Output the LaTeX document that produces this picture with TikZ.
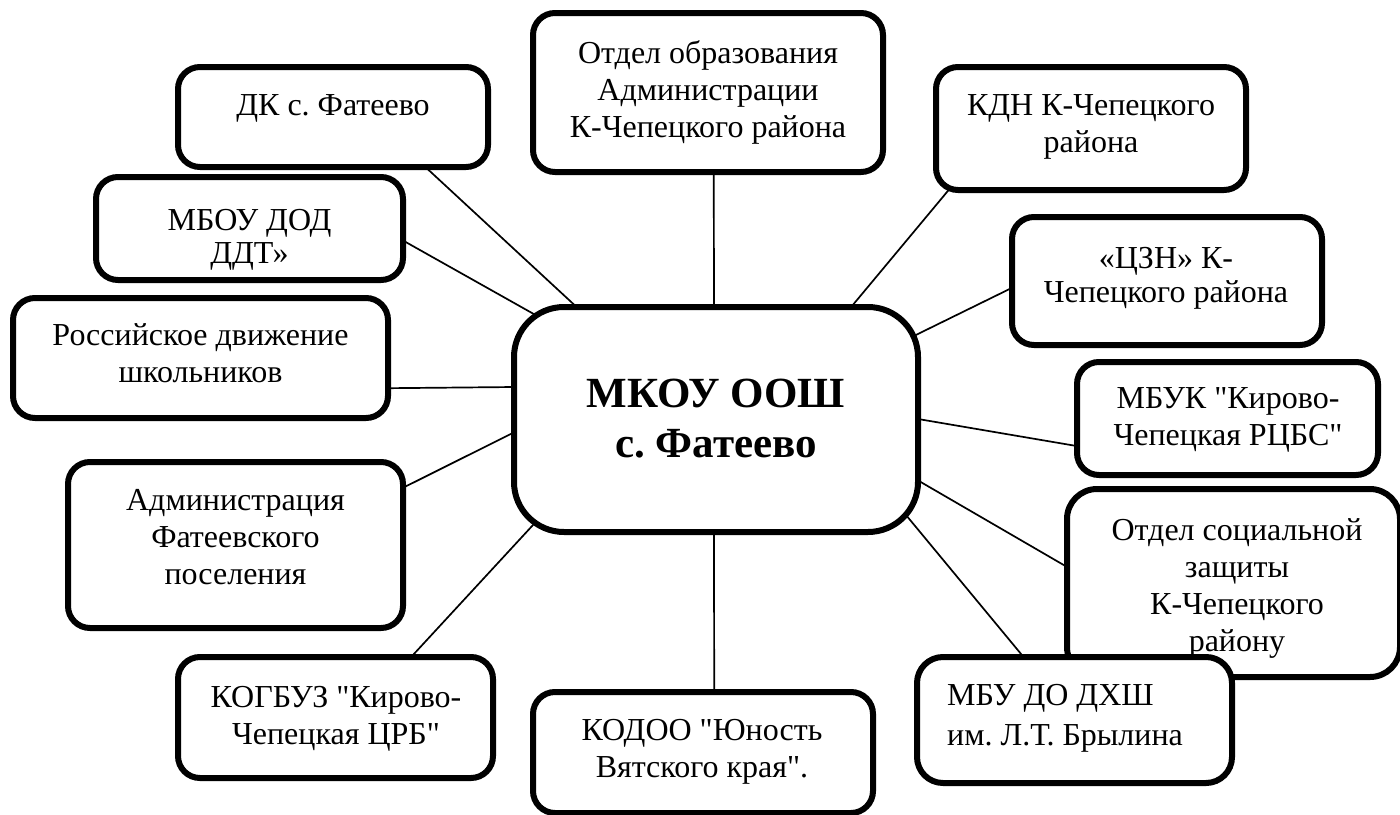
\documentclass[tikz,border=0pt]{standalone}
\usepackage{fontspec}
\setmainfont{Liberation Serif}[Ligatures=TeXOff]
\frenchspacing
\newcommand\myst{\rule{0pt}{28pt}}
\pgfdeclarelayer{bg}
\pgfsetlayers{bg,main}
\begin{document}
\begin{tikzpicture}[x=1pt,y=-1pt,
  box/.style={draw, line width=6pt, rounded corners=22pt, fill=white, inner sep=0pt},
  lbl/.style={anchor=north, inner sep=0pt, align=center, font=\fontsize{32}{37}\selectfont},
  lblc/.style={anchor=north, inner sep=0pt, align=center, font=\bfseries\fontsize{43}{50}\selectfont},
  conn/.style={line width=1.7pt, shorten <=-30pt, shorten >=-30pt}]
\useasboundingbox (0,0) rectangle (1400,814);
% centre
\node[box, rounded corners=50pt, minimum width=404pt, minimum height=225pt] (c) at (716,419.5) {};
\node[lblc] (tc) at (716,367) {\rule{0pt}{40pt}МКОУ ООШ\\с. Фатеево};
% boxes
\node[box, minimum width=350pt, minimum height=159pt] (oo) at (708,92.5) {};
\node[lbl] (too) at (708,35) {\myst Отдел образования\\Администрации\\К-Чепецкого района};
\node[box, minimum width=310pt, minimum height=100pt] (dk) at (333,117) {};
\node[lbl] (tdk) at (333,87) {\myst ДК с. Фатеево};
\node[box, minimum width=307pt, minimum height=103pt] (mb) at (249.5,228.5) {};
\node[lbl, font=\fontsize{32}{33}\selectfont] (tmb) at (249.5,202) {\myst МБОУ ДОД\\ДДТ»};
\node[box, minimum width=375pt, minimum height=120pt] (rd) at (200.5,358) {};
\node[lbl] (trd) at (200.5,317) {\myst Российское движение\\школьников};
\node[box, minimum width=335pt, minimum height=166pt] (adm) at (235.5,545) {};
\node[lbl] (tadm) at (235.5,482) {\myst Администрация\\Фатеевского\\поселения};
\node[box, minimum width=315pt, minimum height=121pt] (kog) at (335.5,717.5) {};
\node[lbl] (tkog) at (336,679) {\myst КОГБУЗ "Кирово-\\Чепецкая ЦРБ"};
\node[box, minimum width=340pt, minimum height=121pt] (kod) at (703,752.5) {};
\node[lbl] (tkod) at (702,712) {\myst КОДОО "Юность\\Вятского края".};
\node[box, rounded corners=30pt, minimum width=333pt, minimum height=188pt] (os) at (1233.5,583) {};
\node[lbl] (tos) at (1237,512) {\myst Отдел социальной\\защиты\\К-Чепецкого\\району};
\node[box, rounded corners=26pt, minimum width=315pt, minimum height=126pt] (dh) at (1074.5,720) {};
\node[lbl, anchor=north west, align=left, font=\fontsize{32}{40}\selectfont] (tdh) at (947,677) {\myst МБУ ДО ДХШ\\им. Л.Т. Брылина};
\node[box, minimum width=301pt, minimum height=113pt] (mbuk) at (1227.5,418.5) {};
\node[lbl] (tmbuk) at (1228,380) {\myst МБУК "Кирово-\\Чепецкая РЦБС"};
\node[box, minimum width=310pt, minimum height=128pt] (czn) at (1167,281) {};
\node[lbl, font=\fontsize{32}{34}\selectfont] (tczn) at (1166,240) {\myst «ЦЗН» К-\\Чепецкого района};
\node[box, minimum width=310pt, minimum height=123pt] (kdn) at (1091,128.5) {};
\node[lbl] (tkdn) at (1091,87) {\myst КДН К-Чепецкого\\района};
% connectors
\begin{pgfonlayer}{bg}
\draw[conn] (oo.-86.4) -- (c.91.5);
\draw[conn] (dk.-29.05) -- (c.141.4);
\draw[conn] (mb.-5.03) -- (c.150.5);
\draw[conn] (rd.-9.39) -- (c.171.41);
\draw[conn] (adm.19.1) -- (c.-176.18);
\draw[conn] (kog.39.08) -- (c.-149.3);
\draw[conn] (kod.80.6) -- (c.-91.53);
\draw[conn] (dh.129.8) -- (c.-29.9);
\draw[conn] (os.174.85) -- (c.-17.97);
\draw[conn] (mbuk.-170.38) -- (c.0.43);
\draw[conn] (czn.-177.4) -- (c.23.18);
\draw[conn] (kdn.-156.63) -- (c.40.44);
\end{pgfonlayer}
\end{tikzpicture}
\end{document}
